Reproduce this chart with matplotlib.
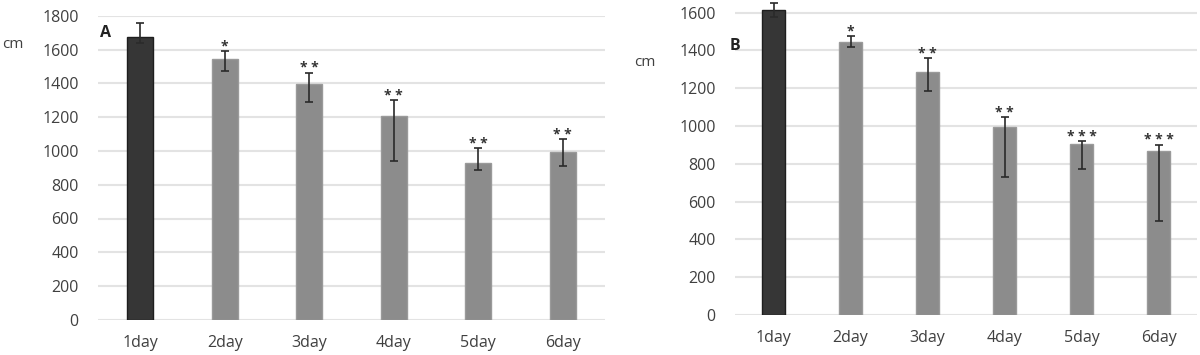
import matplotlib.pyplot as plt
import numpy as np

days = ['1day', '2day', '3day', '4day', '5day', '6day']

# panel A
a_mean = [1672, 1546, 1396, 1208, 930, 992]
a_upper = [1757, 1593, 1463, 1301, 1015, 1072]
a_lower = [1637, 1471, 1291, 942, 887, 912]
a_stars = ['', '*', '**', '**', '**', '**']

# panel B
b_mean = [1614, 1443, 1287, 993, 905, 868]
b_upper = [1652, 1478, 1360, 1049, 921, 901]
b_lower = [1575, 1416, 1187, 729, 772, 499]
b_stars = ['', '*', '**', '**', '***', '***']

W, H = 1200, 355
plt.rcParams['font.family'] = ['Open Sans', 'DejaVu Sans']


def panel(fig, rect_px, ymax, mean, lower, upper, stars, letter, letter_xy, cm_xy):
    l, b, w, h = rect_px
    ax = fig.add_axes([l / W, b / H, w / W, h / H])
    x = np.arange(len(mean))
    colors = ['#363636'] + ['#8c8c8c'] * (len(mean) - 1)
    edges = ['#1e1e1e'] + ['#9a9a9a'] * (len(mean) - 1)
    ax.bar(x, mean, width=0.31, color=colors, edgecolor=edges, linewidth=1, zorder=3)
    mean = np.array(mean)
    yerr = [mean - np.array(lower), np.array(upper) - mean]
    ax.errorbar(x, mean, yerr=yerr, fmt='none', ecolor='#2a2a2a', elinewidth=1.2,
                capsize=3, capthick=1.2, zorder=4)
    for xi, up, s in zip(x, upper, stars):
        if s:
            ax.annotate(' '.join(s), (xi, up), xytext=(0, -2), textcoords='offset points',
                        ha='center', va='bottom', fontsize=10, fontweight='bold', color='#333333')
    ax.set_xlim(-0.5, len(mean) - 0.5)
    ax.set_ylim(0, ymax)
    ax.set_yticks(np.arange(0, ymax + 1, 200))
    ax.yaxis.grid(True, color='#e3e3e3', linewidth=1.5, zorder=0)
    ax.set_axisbelow(True)
    for sp in ax.spines.values():
        sp.set_visible(False)
    ax.tick_params(length=0, labelsize=11.5, colors='#404040', pad=14)
    ax.tick_params(axis='x', pad=11)
    ax.set_xticks(x)
    ax.set_xticklabels(days)
    fig.text(letter_xy[0] / W, 1 - letter_xy[1] / H, letter, fontsize=11.5, fontweight='bold',
             color='#222222', va='center', ha='left')
    fig.text(cm_xy[0] / W, 1 - cm_xy[1] / H, 'cm', fontsize=11, color='#404040',
             va='center', ha='center')
    return ax


fig = plt.figure(figsize=(12, 3.55), dpi=100)
panel(fig, (98, 35.1, 507, 304.2), 1800, a_mean, a_lower, a_upper, a_stars,
      'A', (100, 33), (13, 45))
panel(fig, (735, 40, 462, 314.7), 1665, b_mean, b_lower, b_upper, b_stars,
      'B', (730, 46), (645, 63))
ax_b = fig.axes[1]
ax_b.set_yticks(np.arange(0, 1601, 200))

fig.savefig('out.png', dpi=100)
